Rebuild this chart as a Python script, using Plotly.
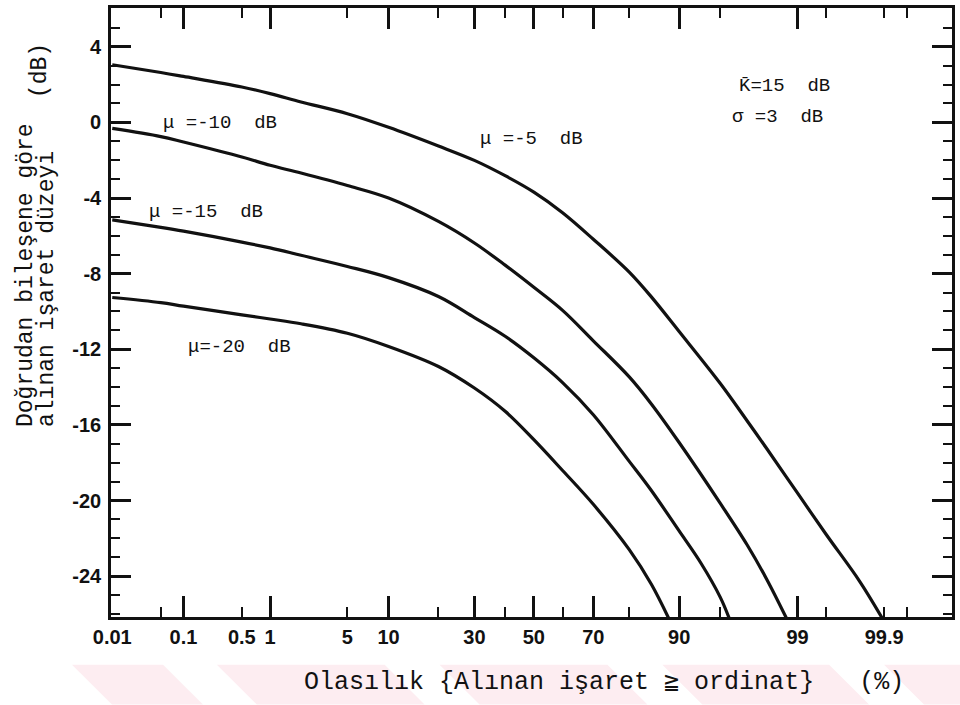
import plotly.graph_objects as go
from statistics import NormalDist

# ---------------- data (probability in %, level in dB) ----------------
prob_mu5 = [0.01, 0.05, 0.1, 0.5, 1, 2, 5, 10, 20, 30, 40, 50, 60, 70, 80, 85, 90, 95, 97, 98, 99, 99.5, 99.8, 99.9]
db_mu5 = [3.05, 2.64, 2.43, 1.87, 1.52, 1.08, 0.46, -0.26, -1.25, -2.01, -2.82, -3.69, -4.78, -6.18, -7.92,
          -9.23, -11.06, -13.81, -15.78, -17.25, -19.61, -21.77, -24.31, -26.4]

prob_mu10 = [0.01, 0.05, 0.1, 0.5, 1, 2, 5, 10, 20, 30, 40, 50, 60, 70, 80, 85, 90, 95, 97, 98, 98.7]
db_mu10 = [-0.32, -0.75, -1.04, -1.83, -2.27, -2.68, -3.34, -4.0, -5.24, -6.38, -7.55, -8.72, -9.94, -11.55,
           -13.46, -14.89, -16.93, -20.15, -22.34, -24.16, -26.2]

prob_mu15 = [0.01, 0.05, 0.1, 0.5, 1, 2, 5, 10, 20, 30, 40, 50, 60, 70, 80, 85, 90, 93, 95, 95.8]
db_mu15 = [-5.16, -5.55, -5.75, -6.33, -6.64, -7.03, -7.62, -8.21, -9.21, -10.32, -11.31, -12.45, -13.76,
           -15.46, -17.93, -19.47, -21.61, -23.33, -25.12, -26.3]

prob_mu20 = [0.01, 0.05, 0.1, 0.5, 1, 2, 5, 10, 20, 30, 40, 50, 60, 70, 80, 85, 88.4]
db_mu20 = [-9.26, -9.53, -9.72, -10.18, -10.40, -10.65, -11.15, -11.85, -12.91, -14.05, -15.28, -16.78,
           -18.41, -20.2, -22.6, -24.43, -26.3]

# x axis (normal probability scale)
label_probs = [0.01, 0.1, 0.5, 1, 5, 10, 30, 50, 70, 90, 99, 99.9]
label_text = ["0.01", "0.1", "0.5", "1", "5", "10", "30", "50", "70", "90", "99", "99.9"]
long_tick_probs = [0.1, 1, 10, 30, 50, 70, 90, 99]
short_tick_probs = [0.05, 0.5, 5, 20, 40, 60, 80, 95, 99.5, 99.9, 99.95]

# y axis
y_major = [-24, -20, -16, -12, -8, -4, 0, 4]
y_major_text = ["-24", "-20", "-16", "-12", "-8", "-4", "0", "4"]
y_minor = list(range(-26, 7))

curve_labels = ["μ =-5  dB", "μ =-10  dB", "μ =-15  dB", "μ=-20  dB"]

# ---------------- scale helper ----------------
ND = NormalDist()


def zq(p):
    return ND.inv_cdf(p / 100.0)


X_RANGE = [-3.73, 3.6885]
Y_RANGE = [-26.16, 6.05]
L, R, T, B = 111, 953, 5, 617  # plot frame in pixels
W, H = R - L, B - T


def px2paper(px, py):
    return (px - L) / W, (B - py) / H


fig = go.Figure()

# faint pink watermark stripes behind the axis title
PINK = "rgb(253,237,241)"
stripe_tops = [(72, 163), (217, 385), (440, 608), (663, 830), (885, 1000)]
for x0, x1 in stripe_tops:
    pts = [px2paper(x0, 665), px2paper(x1, 665), px2paper(x1 + 40, 705), px2paper(x0 + 40, 705)]
    path = "M " + " L ".join(f"{a:.4f},{b:.4f}" for a, b in pts) + " Z"
    fig.add_shape(type="path", path=path, xref="paper", yref="paper",
                  fillcolor=PINK, line=dict(width=0), layer="below")

for probs, dbs in [(prob_mu5, db_mu5), (prob_mu10, db_mu10), (prob_mu15, db_mu15), (prob_mu20, db_mu20)]:
    fig.add_trace(go.Scatter(
        x=[zq(p) for p in probs], y=dbs, mode="lines",
        line=dict(color="#111111", width=3.2, shape="spline", smoothing=1.0),
        hoverinfo="skip", showlegend=False))

# helper trace (outside the visible range) so the overlay label axis is drawn
fig.add_trace(go.Scatter(x=[0], y=[100], xaxis="x2", yaxis="y", mode="markers",
                         marker=dict(opacity=0), showlegend=False, hoverinfo="skip"))

tick_font = dict(family="Liberation Sans, Arial, sans-serif", size=20, color="#111111", weight="bold")
AX = "#111111"

fig.update_layout(
    width=960, height=705,
    margin=dict(l=L, r=960 - R, t=T, b=705 - B),
    paper_bgcolor="white", plot_bgcolor="white",
    showlegend=False,
    xaxis=dict(
        range=X_RANGE, tickmode="array",
        tickvals=[zq(p) for p in long_tick_probs],
        ticks="inside", ticklen=21, tickwidth=2.6, tickcolor=AX,
        showticklabels=False, showline=True, linecolor=AX, linewidth=2.6, mirror="ticks",
        showgrid=False, zeroline=False,
        minor=dict(tickmode="array", tickvals=[zq(p) for p in short_tick_probs],
                   ticks="inside", ticklen=10, tickwidth=2.4, tickcolor=AX, showgrid=False),
    ),
    xaxis2=dict(
        overlaying="x", anchor="y", side="bottom", range=X_RANGE, tickmode="array",
        tickvals=[zq(p) for p in label_probs], ticktext=label_text,
        ticks="", showline=False, showgrid=False, zeroline=False,
        tickfont=tick_font, ticklabelstandoff=6,
    ),
    yaxis=dict(
        range=Y_RANGE, tickmode="array", tickvals=y_major, ticktext=y_major_text,
        ticks="inside", ticklen=20, tickwidth=2.6, tickcolor=AX,
        showline=True, linecolor=AX, linewidth=2.6, mirror="ticks",
        showgrid=False, zeroline=False, tickfont=tick_font, ticklabelstandoff=3,
        minor=dict(tickmode="array", tickvals=y_minor, ticks="inside", ticklen=9,
                   tickwidth=2.2, tickcolor=AX, showgrid=False),
    ),
)

mono = "Liberation Mono, Courier New, monospace"
lab_font = dict(family=mono, size=19, color="#111111")

label_pos = [(532, 137), (220, 121), (206, 210), (240, 346)]
for txt, (px, py) in zip(curve_labels, label_pos):
    xp, yp = px2paper(px, py)
    fig.add_annotation(x=xp, y=yp, xref="paper", yref="paper", text=txt, showarrow=False,
                       font=lab_font, xanchor="center", yanchor="middle")

for txt, (px, py) in [("K\u0304=15  dB", (785, 83)), ("σ =3  dB", (778, 115))]:
    xp, yp = px2paper(px, py)
    fig.add_annotation(x=xp, y=yp, xref="paper", yref="paper", text=txt, showarrow=False,
                       font=lab_font, xanchor="center", yanchor="middle")

title_font = dict(family=mono, size=23, color="#111111")
# y axis title (rotated, two lines + (dB))
for txt, px, py_bottom in [("Doğrudan bileşene göre", 26, 428), ("alınan işaret düzeyi", 47, 428), ("(dB)", 40, 98)]:
    xp, yp = px2paper(px, py_bottom)
    fig.add_annotation(x=xp, y=yp, xref="paper", yref="paper", text=txt, showarrow=False,
                       font=title_font, textangle=-90, xanchor="center", yanchor="bottom")

# x axis title
xp, yp = px2paper(302, 683)
fig.add_annotation(x=xp, y=yp, xref="paper", yref="paper",
                   text="Olasılık {Alınan işaret ≧ ordinat}   (%)", showarrow=False,
                   font=dict(family=mono, size=25, color="#111111"), xanchor="left", yanchor="middle")

fig.write_html("out.html")
